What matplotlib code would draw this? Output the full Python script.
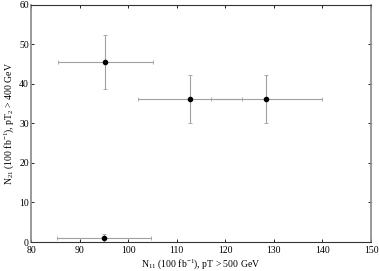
import numpy as np
import matplotlib
matplotlib.use('Agg')
import matplotlib.pyplot as plt

# values
n11 = [95.3, 112.7, 128.4, 95.0]
n21 = [45.4, 36.1, 36.1, 1.0]
n11_lo = [85.6, 102.1, 117.1, 85.3]
n11_hi = [105.2, 123.4, 139.8, 104.7]
n21_lo = [38.6, 30.1, 30.1, 0.0]
n21_hi = [52.3, 42.2, 42.2, 1.9]

plt.rcParams['font.family'] = ['Liberation Serif', 'DejaVu Serif']
plt.rcParams['mathtext.fontset'] = 'custom'
plt.rcParams['mathtext.rm'] = 'Liberation Serif'
plt.rcParams['mathtext.it'] = 'Liberation Serif:italic'

fig = plt.figure(figsize=(3.79, 2.71), dpi=100)
ax = fig.add_axes([0.082, 0.107, 0.897, 0.876])

x = np.array(n11)
y = np.array(n21)
xerr = [x - np.array(n11_lo), np.array(n11_hi) - x]
yerr = [y - np.array(n21_lo), np.array(n21_hi) - y]

ax.errorbar(x, y, xerr=xerr, yerr=yerr, fmt='o', color='black', ms=3,
            ecolor='#a0a0a0', elinewidth=0.8, capsize=1.5, capthick=0.6)

ax.set_xlim(80, 150)
ax.set_ylim(0, 60)
ax.set_xticks(np.arange(80, 151, 10))
ax.set_yticks(np.arange(0, 61, 10))
ax.tick_params(direction='in', length=2, width=0.6, labelsize=7, top=True, right=True)
ax.tick_params(axis='x', pad=3)
ax.tick_params(axis='y', pad=1.5)

for s in ['left', 'right']:
    ax.spines[s].set_color('#888888')
    ax.spines[s].set_linewidth(1.2)
for s in ['top', 'bottom']:
    ax.spines[s].set_color('#333333')
    ax.spines[s].set_linewidth(0.8)

ax.set_xlabel(r'N$_{11}$ (100 fb$^{-1}$), pT > 500 GeV', fontsize=7, labelpad=1.5)
ax.set_ylabel(r'N$_{21}$ (100 fb$^{-1}$), pT$_{2}$ > 400 GeV', fontsize=7, labelpad=2)

fig.savefig('out.png', dpi=100)
